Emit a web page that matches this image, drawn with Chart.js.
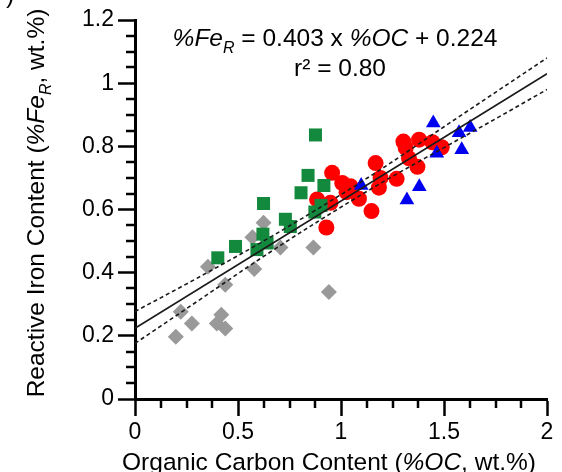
<!DOCTYPE html>
<html>
<head>
<meta charset="utf-8">
<script src="https://cdn.jsdelivr.net/npm/chart.js@4.4.0/dist/chart.umd.min.js"></script>
<style>
  html, body { margin: 0; padding: 0; background: #fff; }
  #wrap { width: 562px; height: 472px; position: relative; }
</style>
</head>
<body>
<div id="wrap"><canvas id="c" width="562" height="472"></canvas></div>
<script>
// Organic carbon (%OC) vs reactive iron (%FeR), four sample groups
const grayOC  = [0.198, 0.276, 0.222, 0.419, 0.397, 0.438, 0.438, 0.354, 0.579, 0.624, 0.570, 0.706, 0.866, 0.941];
const grayFe  = [0.197, 0.239, 0.276, 0.267, 0.239, 0.223, 0.362, 0.419, 0.412, 0.558, 0.512, 0.480, 0.480, 0.339];

const greenOC = [0.876, 0.840, 0.917, 0.806, 0.624, 0.903, 0.873, 0.730, 0.754, 0.621, 0.641, 0.592, 0.488, 0.402];
const greenFe = [0.836, 0.708, 0.676, 0.653, 0.619, 0.613, 0.592, 0.569, 0.546, 0.522, 0.494, 0.473, 0.483, 0.447];

const redOC   = [0.884, 0.949, 0.929, 0.957, 1.006, 1.046, 1.027, 1.087, 1.148, 1.168, 1.192, 1.184, 1.270, 1.303, 1.314, 1.330, 1.371, 1.379, 1.444, 1.489];
const redFe   = [0.632, 0.621, 0.543, 0.716, 0.684, 0.674, 0.655, 0.634, 0.595, 0.747, 0.700, 0.669, 0.697, 0.815, 0.795, 0.762, 0.735, 0.821, 0.813, 0.797];

const blueOC  = [1.448, 1.573, 1.627, 1.465, 1.586, 1.098, 1.380, 1.320];
const blueFe  = [0.874, 0.843, 0.860, 0.778, 0.789, 0.676, 0.672, 0.630];

// Least-squares fit: %FeR = 0.403 x %OC + 0.224
const fitSlope = 0.403;
const fitIntercept = 0.224;
const fitRange = [0, 2];

// 95% confidence band around the fit
const bandOC    = [0, 0.3, 0.6, 0.9, 1.2, 1.5, 1.75, 2.0];
const bandUpper = [0.277, 0.382, 0.491, 0.607, 0.730, 0.862, 0.971, 1.080];
const bandLower = [0.176, 0.308, 0.441, 0.567, 0.686, 0.796, 0.887, 0.980];

const xTickLabels = ['0', '0.5', '1', '1.5', '2'];
const yTickLabels = ['0', '0.2', '0.4', '0.6', '0.8', '1', '1.2'];

const FONT = '"Liberation Sans", Arial, Helvetica, sans-serif';
const TICK_SIZE = 23;
const TEXT_SIZE = 24.5;

const pairs = (xs, ys) => xs.map((x, i) => ({ x: x, y: ys[i] }));
const fitLine = fitRange.map(x => ({ x: x, y: fitSlope * x + fitIntercept }));

// Short intermediate ticks on both axes
const minorTicks = {
  id: 'minorTicks',
  afterDraw(chart) {
    const { ctx, scales: { x, y } } = chart;
    ctx.save();
    ctx.strokeStyle = '#000';
    ctx.lineWidth = 2.5;
    ctx.beginPath();
    for (let i = 1; i < 16; i++) {
      if (i % 4 === 0) continue;
      const px = Math.round(x.getPixelForValue(i * 0.125));
      ctx.moveTo(px, x.top);
      ctx.lineTo(px, x.top + 9);
    }
    for (let i = 1; i < 24; i++) {
      if (i % 4 === 0) continue;
      const py = Math.round(y.getPixelForValue(i * 0.05));
      ctx.moveTo(y.right - 9, py);
      ctx.lineTo(y.right, py);
    }
    ctx.stroke();
    ctx.restore();
  }
};

// Draw a run of text pieces (normal / italic / subscript), centred on cx
function drawRuns(ctx, runs, cx, baseY, size) {
  const fontFor = r => (r.italic ? 'italic ' : '') + (r.sub ? Math.round(size * 0.65) : size) + 'px ' + FONT;
  let total = 0;
  runs.forEach(r => { ctx.font = fontFor(r); r.w = ctx.measureText(r.t).width; total += r.w; });
  let x = cx - total / 2;
  runs.forEach(r => {
    ctx.font = fontFor(r);
    ctx.fillText(r.t, x, baseY + (r.sub ? size * 0.28 : 0));
    x += r.w;
  });
}

const labels = {
  id: 'labels',
  afterDraw(chart) {
    const ctx = chart.ctx;
    ctx.save();
    ctx.fillStyle = '#000';
    ctx.textBaseline = 'alphabetic';
    ctx.textAlign = 'left';

    // regression equation and r²
    drawRuns(ctx, [
      { t: '%Fe', italic: true },
      { t: 'R', italic: true, sub: true },
      { t: ' = 0.403 x ' },
      { t: '%OC', italic: true },
      { t: ' + 0.224' }
    ], 335, 46, TEXT_SIZE);
    drawRuns(ctx, [{ t: 'r² = 0.80' }], 340, 76, TEXT_SIZE);

    // x-axis title
    drawRuns(ctx, [
      { t: 'Organic Carbon Content (' },
      { t: '%OC', italic: true },
      { t: ', wt.%)' }
    ], 329, 470, TEXT_SIZE);

    // y-axis title
    ctx.save();
    ctx.translate(44, 203);
    ctx.rotate(-Math.PI / 2);
    drawRuns(ctx, [
      { t: 'Reactive Iron Content (' },
      { t: '%Fe', italic: true },
      { t: 'R', italic: true, sub: true },
      { t: ', wt.%)' }
    ], 0, 0, TEXT_SIZE);
    ctx.restore();

    // panel letter cut at the top edge
    ctx.font = TEXT_SIZE + 'px ' + FONT;
    ctx.fillText(')', 6, 3);
    ctx.restore();
  }
};

const lineStyle = { showLine: true, pointRadius: 0, borderColor: '#1a1a1a', fill: false };

new Chart(document.getElementById('c'), {
  type: 'scatter',
  data: {
    datasets: [
      Object.assign({ data: fitLine, borderWidth: 1.6, order: 0 }, lineStyle),
      Object.assign({ data: pairs(bandOC, bandUpper), borderWidth: 1.6, borderDash: [4, 3], cubicInterpolationMode: 'monotone', order: 0 }, lineStyle),
      Object.assign({ data: pairs(bandOC, bandLower), borderWidth: 1.6, borderDash: [4, 3], cubicInterpolationMode: 'monotone', order: 0 }, lineStyle),
      { data: pairs(blueOC, blueFe), pointStyle: 'triangle', pointRadius: 8.5, backgroundColor: '#0000f0', borderWidth: 0, order: 1 },
      { data: pairs(greenOC, greenFe), pointStyle: 'rect', pointRadius: 9.2, backgroundColor: '#12893c', borderWidth: 0, order: 2 },
      { data: pairs(redOC, redFe), pointStyle: 'circle', pointRadius: 8, backgroundColor: '#ff0000', borderWidth: 0, order: 3 },
      { data: pairs(grayOC, grayFe), pointStyle: 'rectRot', pointRadius: 8, backgroundColor: '#999999', borderWidth: 0, order: 4 }
    ]
  },
  options: {
    responsive: false,
    animation: false,
    events: [],
    layout: { padding: { left: 0, right: 15, top: 20, bottom: 0 } },
    plugins: { legend: { display: false }, tooltip: { enabled: false } },
    scales: {
      x: {
        type: 'linear', min: 0, max: 2,
        ticks: {
          stepSize: 0.5, color: '#000', padding: 3, maxRotation: 0,
          font: { family: FONT, size: TICK_SIZE },
          callback: (v, i) => xTickLabels[i]
        },
        grid: { drawOnChartArea: false, drawTicks: true, tickLength: 17, tickWidth: 2.5, tickColor: '#000' },
        border: { display: true, color: '#000', width: 3 },
        afterFit(s) { s.height = 73; }
      },
      y: {
        type: 'linear', min: 0, max: 1.2,
        ticks: {
          stepSize: 0.2, color: '#000', padding: 4,
          font: { family: FONT, size: TICK_SIZE },
          callback: (v, i) => yTickLabels[i]
        },
        grid: { drawOnChartArea: false, drawTicks: true, tickLength: 17, tickWidth: 2.5, tickColor: '#000' },
        border: { display: true, color: '#000', width: 3 },
        afterFit(s) { s.width = 135; }
      }
    }
  },
  plugins: [minorTicks, labels]
});
</script>
</body>
</html>
